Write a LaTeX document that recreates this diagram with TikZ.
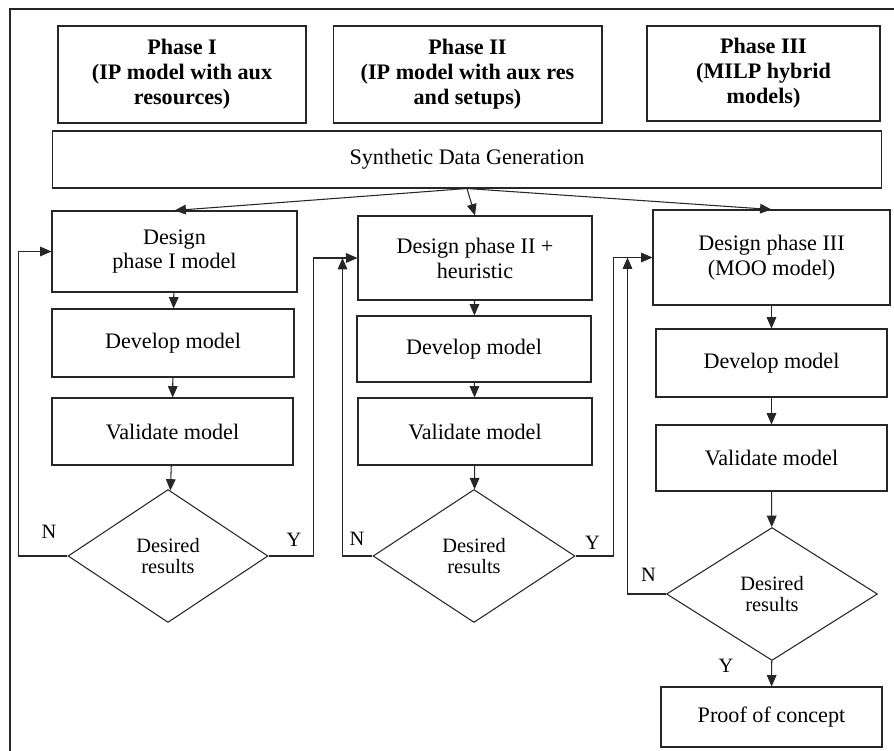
\documentclass[tikz,border=0pt]{standalone}
\usepackage{fontspec}
\setmainfont{Liberation Serif}
\usetikzlibrary{shapes.geometric,arrows.meta,positioning,calc}

\begin{document}
\begin{tikzpicture}[
    x=0.02cm, y=-0.02cm,
    line width=0.6pt,
    box/.style={rectangle, draw=black!85, align=center, font=\fontsize{12.6}{14.2}\selectfont, inner sep=2pt},
    phase/.style={box, font=\fontsize{12.6}{14.2}\selectfont\bfseries, minimum height=1.94cm},
    decision/.style={diamond, draw=black!85, align=center, font=\fontsize{11.6}{12}\selectfont, inner sep=1pt, minimum height=2.66cm},
    yn/.style={font=\fontsize{11.6}{12}\selectfont, inner sep=0pt},
    arrow/.style={-{Triangle[length=6.5pt, width=5.5pt]}, draw=black!85}
]
\useasboundingbox (0,0) rectangle (894,751);
\clip (0,0) rectangle (894,751);
\draw[black!85] (10,9) rectangle (910,770);

% Phases
\node[phase, minimum width=4.96cm] (ph1) at (182,74.5) {Phase I\\(IP model with aux\\resources)};
\node[phase, minimum width=5.38cm] (ph2) at (467.5,74.5) {Phase II\\(IP model with aux res\\and setups)};
\node[phase, minimum width=4.66cm, minimum height=1.9cm] (ph3) at (763.5,73.5) {Phase III\\(MILP hybrid\\models)};
\node[box, minimum width=16.6cm, minimum height=1.14cm] (syn) at (467,159.5) {Synthetic Data Generation};

% Column I
\node[box, minimum width=4.9cm, minimum height=1.62cm] (des1) at (174.5,251.5) {Design\\phase I model};
\node[box, minimum width=4.84cm, minimum height=1.36cm] (dev1) at (173,343) {Develop model};
\node[box, minimum width=4.82cm, minimum height=1.34cm] (val1) at (172.5,431.5) {Validate model};
\node[decision, minimum width=4cm] (dec1) at (168,556) {Desired\\results};

% Column II
\node[box, minimum width=4.68cm, minimum height=1.68cm] (des2) at (475,258) {Design phase II +\\heuristic};
\node[box, minimum width=4.68cm, minimum height=1.32cm] (dev2) at (474,349) {Develop model};
\node[box, minimum width=4.68cm, minimum height=1.34cm] (val2) at (475,431.5) {Validate model};
\node[decision, minimum width=4.04cm] (dec2) at (474,556) {Desired\\results};

% Column III
\node[box, minimum width=4.74cm, minimum height=1.9cm] (des3) at (771.5,257.5) {Design phase III\\(MOO model)};
\node[box, minimum width=4.62cm, minimum height=1.36cm] (dev3) at (771.5,363) {Develop model};
\node[box, minimum width=4.62cm, minimum height=1.32cm] (val3) at (771.5,458) {Validate model};
\node[decision, minimum width=4.22cm] (dec3) at (772,594) {Desired\\results};
\node[box, minimum width=4.42cm, minimum height=1.2cm] (proof) at (771.5,717) {Proof of concept};

% Arrows
\draw[arrow] (syn.south) -- (des1.north);
\draw[arrow] (syn.south) -- (des2.north);
\draw[arrow] (syn.south) -- (des3.north);
\draw[arrow] (des1) -- (dev1);
\draw[arrow] (dev1) -- (val1);
\draw[arrow] (val1) -- (dec1);
\draw[arrow] (des2) -- (dev2);
\draw[arrow] (dev2) -- (val2);
\draw[arrow] (val2) -- (dec2);
\draw[arrow] (des3) -- (dev3);
\draw[arrow] (dev3) -- (val3);
\draw[arrow] (val3) -- (dec3);
\draw[arrow] (dec3) -- (proof);

% Loops
\draw[arrow] (dec1.west) -- ++(-49,0) |- (des1.west);
\draw[arrow] (dec1.east) -- ++(45,0) |- (des2.west);
\draw[arrow] (dec2.west) -| ($(des2.west)+(-15,0)$);
\draw[arrow] (dec2.east) -- ++(38,0) |- (des3.west);
\draw[arrow] (dec3.west) -| ($(des3.west)+(-25,0)$);

% Labels
\node[yn] (n1) at ($(dec1.west)+(-18.5,-24)$) {N};
\node[yn] (y1) at ($(dec1.east)+(25.5,-16)$) {Y};
\node[yn] (n2) at ($(dec2.west)+(-15.5,-17)$) {N};
\node[yn] (y2) at ($(dec2.east)+(17,-13)$) {Y};
\node[yn] (n3) at ($(dec3.west)+(-17.5,-19)$) {N};
\node[yn] (y3) at ($(dec3.south)+(-46,5)$) {Y};

\end{tikzpicture}
\end{document}
